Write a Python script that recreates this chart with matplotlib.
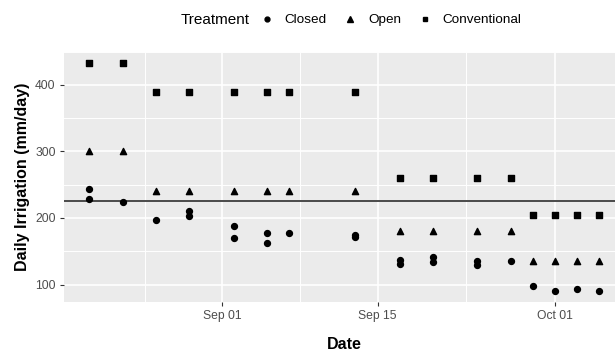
import datetime as dt
import matplotlib
matplotlib.use("Agg")
from matplotlib import pyplot as plt
import matplotlib.dates as mdates
from matplotlib.ticker import MultipleLocator
from matplotlib.lines import Line2D

plt.rcParams['font.family'] = ['Liberation Sans', 'DejaVu Sans']


def d(month, day):
    return dt.date(2019, month, day)


# Closed: two replicates on some dates
closed_dates = [d(8, 20), d(8, 20), d(8, 23), d(8, 26), d(8, 29), d(8, 29),
                d(9, 2), d(9, 2), d(9, 5), d(9, 5), d(9, 7), d(9, 13), d(9, 13),
                d(9, 17), d(9, 17), d(9, 20), d(9, 20), d(9, 24), d(9, 24),
                d(9, 27), d(9, 29), d(10, 1), d(10, 3), d(10, 5)]
closed_vals = [243, 229, 224, 197, 210, 203,
               188, 170, 177, 163, 178, 175, 171,
               137, 131, 141, 134, 135, 130,
               136, 98, 91, 93, 91]

dates = [d(8, 20), d(8, 23), d(8, 26), d(8, 29), d(9, 2), d(9, 5), d(9, 7),
         d(9, 13), d(9, 17), d(9, 20), d(9, 24), d(9, 27), d(9, 29), d(10, 1),
         d(10, 3), d(10, 5)]
open_vals = [300, 300, 240, 240, 240, 240, 240, 240,
             180, 180, 180, 180, 135, 135, 135, 135]
conv_vals = [433, 433, 389, 389, 389, 389, 389, 389,
             260, 260, 260, 260, 205, 205, 205, 205]

ref_line = 225

fig = plt.figure(figsize=(6.15, 3.51), dpi=100)
ax = fig.add_axes([0.104, 0.14, 0.912, 0.713])
ax.set_facecolor("#EBEBEB")
for s in ax.spines.values():
    s.set_visible(False)

ax.scatter(closed_dates, closed_vals, marker="o", s=18, color="black", zorder=3)
ax.scatter(dates, open_vals, marker="^", s=20, color="black", zorder=3)
ax.scatter(dates, conv_vals, marker="s", s=16, color="black", zorder=3)
ax.axhline(ref_line, color="#4a4a4a", lw=1.4, zorder=2)

ax.set_xlim(mdates.date2num(d(8, 20)) - 2.3, mdates.date2num(d(10, 5)) + 2.3)
ax.set_ylim(74, 450)

ax.set_xticks([d(9, 1), d(9, 15), d(10, 1)])
ax.set_xticks([d(8, 25), d(9, 8), d(9, 23)], minor=True)
ax.xaxis.set_major_formatter(mdates.DateFormatter("%b %d"))
ax.yaxis.set_major_locator(MultipleLocator(100))
ax.yaxis.set_minor_locator(MultipleLocator(50))

ax.grid(True, which="major", color="white", lw=1.2, zorder=0)
ax.grid(True, which="minor", color="white", lw=0.7, zorder=0)
ax.set_axisbelow(True)
ax.tick_params(which="major", length=3, color="#333333", labelsize=8.7,
               labelcolor="#4D4D4D", pad=3)
ax.tick_params(which="minor", length=0)

ax.set_xlabel("Date", fontsize=11.5, fontweight="bold", labelpad=11)
ax.set_ylabel("Daily Irrigation (mm/day)", fontsize=11.5, fontweight="bold",
              labelpad=4)

handles = [Line2D([], [], marker="o", ls="", color="black", markersize=3.5),
           Line2D([], [], marker="^", ls="", color="black", markersize=4),
           Line2D([], [], marker="s", ls="", color="black", markersize=3.5)]
fig.text(0.293, 0.943, "Treatment", fontsize=11, va="center")
fig.legend(handles, ["Closed", "Open", "Conventional"], ncol=3,
           loc="center left", bbox_to_anchor=(0.405, 0.943), frameon=False,
           fontsize=9.7, handlelength=1.2, handletextpad=0.7, columnspacing=1.2,
           borderpad=0.2)

fig.savefig("out.png", dpi=100)
